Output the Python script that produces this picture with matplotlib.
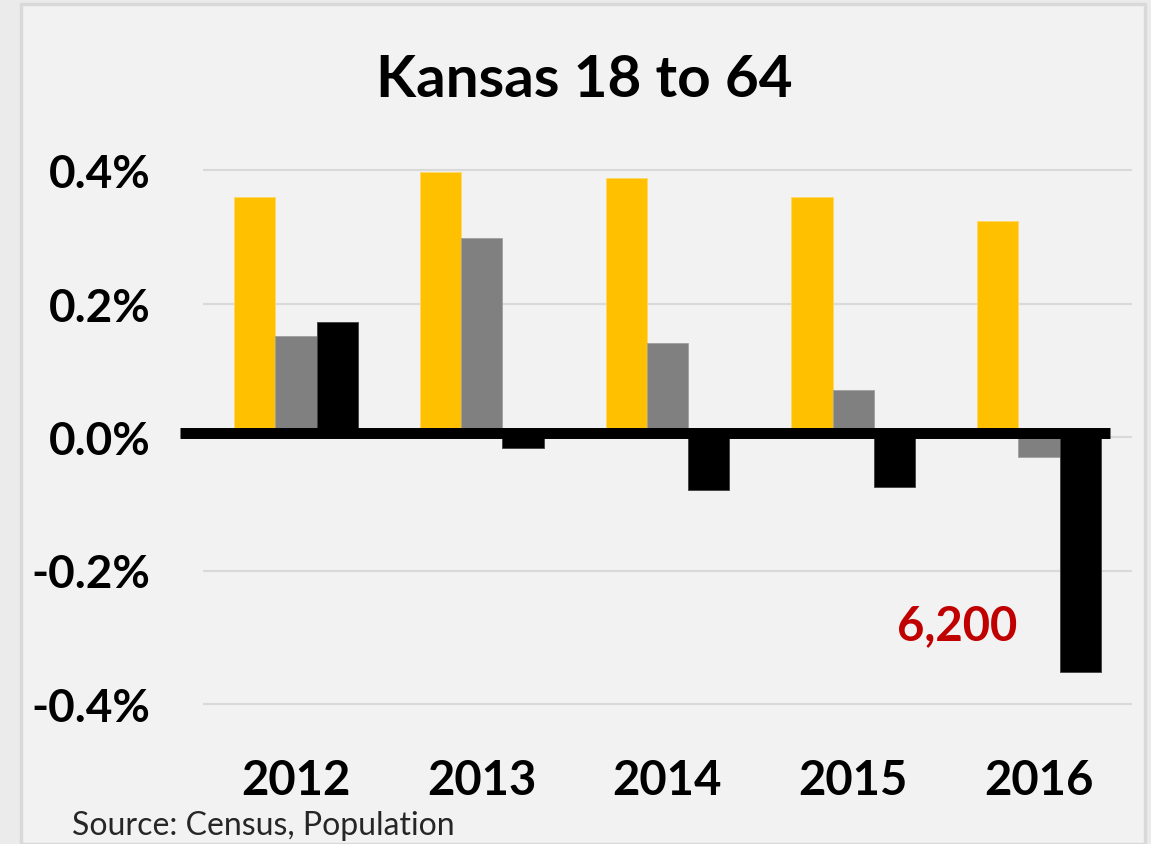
import matplotlib.pyplot as plt
import numpy as np
from matplotlib.patches import Rectangle

plt.rcParams['font.family'] = ['Lato', 'DejaVu Sans']

years = ["2012", "2013", "2014", "2015", "2016"]
# percent change
gold = [0.360, 0.397, 0.388, 0.360, 0.324]
gray = [0.152, 0.298, 0.141, 0.071, -0.030]
black = [0.172, -0.016, -0.080, -0.075, -0.352]
yticks = [-0.4, -0.2, 0.0, 0.2, 0.4]
note = "6,200"

W, H = 1151, 845
fig = plt.figure(figsize=(W / 100, H / 100), dpi=100, facecolor="#ebebeb")
fig.patches.append(Rectangle((21 / W, 0), 1124 / W, 1 - 5 / H, transform=fig.transFigure,
                             facecolor="#f2f2f2", edgecolor="#d9d9d9", lw=2.5, zorder=-1))

# axes box in pixels: x 203..1132, y 140..740 ; zero at y=438, 667.5 px per 1%
top, bot, zero, scale = 140, 740, 438, 667.5
ax = fig.add_axes([203 / W, 1 - bot / H, 929 / W, (bot - top) / H])
ax.set_zorder(1)
ax.set_facecolor("none")
ax.set_xlim(-0.5, 4.5)
ax.set_ylim(-(bot - zero) / scale, (zero - top) / scale)

x = np.arange(len(years))
w = 0.222
ax.bar(x - w, gold, w, color="#ffc000", edgecolor="#ffd966", lw=0.6, zorder=2)
ax.bar(x, gray, w, color="#808080", edgecolor="#a0a0a0", lw=0.6, zorder=2)
ax.bar(x + w, black, w, color="#000000", edgecolor="#404040", lw=0.6, zorder=2)

# thick hand-drawn zero line
ax.plot([-0.624, 4.38], [0.0067, 0.0067], color="black", lw=7.9,
        solid_capstyle="butt", clip_on=False, zorder=3)

ax.set_yticks(yticks)
ax.set_yticklabels(["%.1f%%" % t for t in yticks], fontsize=33, fontweight="bold")
ax.set_xticks(x)
ax.set_xticklabels(years, fontsize=34, fontweight="bold")
ax.tick_params(axis="y", length=0, pad=38)
ax.tick_params(axis="x", length=0, pad=14)
ax.grid(axis="y", color="#d9d9d9", lw=1.5, zorder=0)
for s in ax.spines.values():
    s.set_visible(False)

ax.text(3.558, -0.3026, note, color="#c00000", fontsize=34, fontweight="bold",
        ha="center", va="baseline")

fig.text(584 / W, 1 - 97 / H, "Kansas 18 to 64", fontsize=42, fontweight="bold",
         ha="center", va="baseline")
fig.text(72 / W, 1 - 835 / H, "Source: Census, Population", fontsize=23,
         color="#262626", ha="left", va="baseline")

fig.savefig("out.png", dpi=100, facecolor=fig.get_facecolor())
